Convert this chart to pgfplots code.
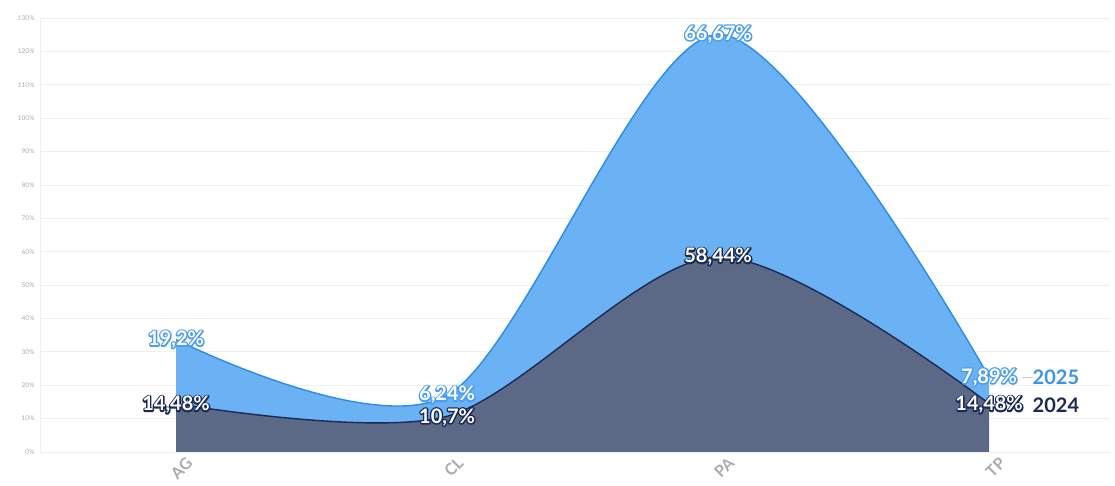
\documentclass[border=0pt]{standalone}
\usepackage{pgfplots}
\pgfplotsset{compat=1.18}
\usepackage{fontspec}
\setmainfont{Lato}
\definecolor{fill25}{HTML}{6BB2F5}
\definecolor{line25}{HTML}{2C8BE8}
\definecolor{fill24}{HTML}{5B6886}
\definecolor{line24}{HTML}{1B2A55}
\definecolor{txt25}{HTML}{3A95E8}
\definecolor{gridc}{HTML}{EFEFEF}
\definecolor{tickc}{HTML}{ABABAB}
% outline: stroked copy underneath, white filled copy on top
\newcommand{\lab}[2]{\makebox[0pt][l]{\special{pdf:literal direct 1 Tr 2.8 w 1 j 1 J #1 RG}#2\special{pdf:literal direct 0 Tr 1 w 0 j 0 J}}{\color{white}#2}}
\def\oa{0.29 0.62 0.93}
\def\ob{0.106 0.165 0.333}
\pgfplotsset{common/.style={
  scale only axis, width=1070pt, height=434pt,
  xmin=-0.502, xmax=3.446, ymin=0, ymax=130,
  clip=false}}
\tikzset{vl/.style={font=\bfseries\fontsize{20}{20}\selectfont, inner sep=0pt}}
\begin{document}
\begin{tikzpicture}
\begin{axis}[
  common, stack plots=y,
  axis line style={draw=none},
  major tick length=0pt,
  ymajorgrids, grid style={gridc, line width=0.8pt},
  ytick={0,10,...,130},
  yticklabel={\pgfmathprintnumber{\tick}\%},
  /pgf/number format/assume math mode=true,
  yticklabel style={font=\fontsize{6.5}{7}\selectfont, text=tickc, xshift=-2pt},
  xtick={0,1,2,3}, xticklabels={AG,CL,PA,TP},
  xticklabel style={rotate=45, anchor=north east, font=\bfseries\fontsize{16}{16}\selectfont, text=tickc, yshift=-6pt, xshift=7pt},
]
\addplot[fill=fill24, draw=none, smooth, tension=0.5] coordinates {(0,14.48) (1,10.7) (2,58.44) (3,14.48)} \closedcycle;
\addplot[fill=fill25, draw=none, smooth, tension=0.5] coordinates {(0,19.2) (1,6.24) (2,66.67) (3,7.89)} \closedcycle;
\draw[gridc, line width=0.8pt] (rel axis cs:0,0) -- (rel axis cs:0,1);
\end{axis}
\begin{axis}[common, stack plots=y, hide axis]
\addplot[draw=line24, line width=1.4pt, smooth, tension=0.5] coordinates {(0,14.48) (1,10.7) (2,58.44) (3,14.48)};
\addplot[draw=line25, line width=1.4pt, smooth, tension=0.5] coordinates {(0,19.2) (1,6.24) (2,66.67) (3,7.89)};
\end{axis}
\begin{axis}[common, hide axis]
\node[vl] at (axis cs:0,33.68) {\lab{\oa}{19,2\%}};
\node[vl] at (axis cs:0,14.1) {\lab{\ob}{14,48\%}};
\node[vl] at (axis cs:1,17.1) {\lab{\oa}{6,24\%}};
\node[vl] at (axis cs:1,10.4) {\lab{\ob}{10,7\%}};
\node[vl] at (axis cs:2,125.11) {\lab{\oa}{66,67\%}};
\node[vl] at (axis cs:2,58.44) {\lab{\ob}{58,44\%}};
\node[vl] at (axis cs:3,22.37) {\lab{\oa}{7,89\%}};
\node[vl] at (axis cs:3,14.1) {\lab{\ob}{14,48\%}};
\draw[tickc!60, line width=0.8pt] (axis cs:3.12,22.37) -- (axis cs:3.16,22.37);
\node[vl, anchor=west, text=txt25] at (axis cs:3.16,22.37) {2025};
\node[vl, anchor=west, text=line24] at (axis cs:3.16,14.1) {2024};
\end{axis}
\pgfresetboundingbox
\path (-40pt,-34pt) rectangle (1075pt,452pt);
\end{tikzpicture}
\end{document}
